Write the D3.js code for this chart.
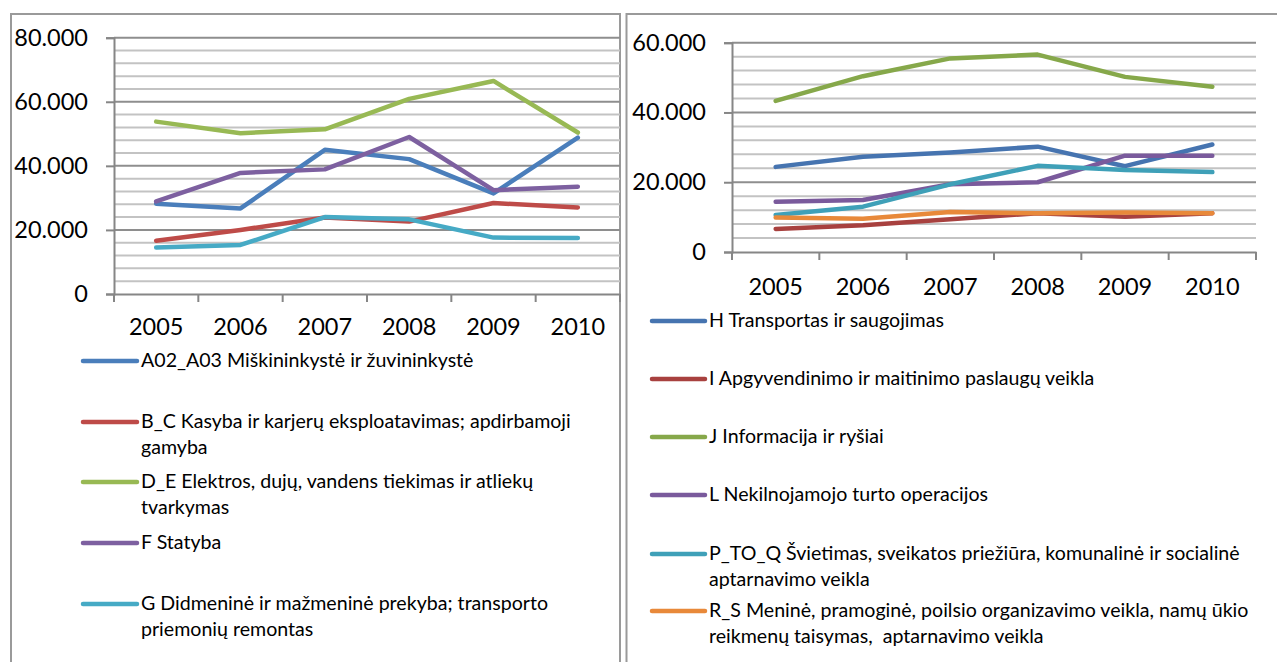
<!DOCTYPE html>
<html>
<head>
<meta charset="utf-8">
<script src="https://cdn.jsdelivr.net/npm/d3@7"></script>
<style>
  body { margin: 0; background: #fff; }
  svg { display: block; }
  text { font-family: Lato, "Open Sans", sans-serif; fill: #000; white-space: pre; }
</style>
</head>
<body>
<script>
// Years on the x axis
const years = ["2005", "2006", "2007", "2008", "2009", "2010"];

// Left chart series
const leftNames = [
  "A02_A03 Miškininkystė ir žuvininkystė",
  "B_C Kasyba ir karjerų eksploatavimas; apdirbamoji\ngamyba",
  "D_E Elektros, dujų, vandens tiekimas ir atliekų\ntvarkymas",
  "F Statyba",
  "G Didmeninė ir mažmeninė prekyba; transporto\npriemonių remontas"
];
const a02a03 = [28200, 26700, 45000, 42100, 31400, 48800];
const bc = [16600, 20000, 23900, 22600, 28400, 27000];
const de = [53800, 50200, 51400, 60900, 66500, 50400];
const f = [28900, 37800, 38900, 49000, 32400, 33500];
const g = [14500, 15300, 24000, 23300, 17600, 17500];
const leftTicks = [0, 20000, 40000, 60000, 80000];

// Right chart series
const rightNames = [
  "H Transportas ir saugojimas",
  "I Apgyvendinimo ir maitinimo paslaugų veikla",
  "J Informacija ir ryšiai",
  "L Nekilnojamojo turto operacijos",
  "P_TO_Q Švietimas, sveikatos priežiūra, komunalinė ir socialinė\naptarnavimo veikla",
  "R_S Meninė, pramoginė, poilsio organizavimo veikla, namų ūkio\nreikmenų taisymas,  aptarnavimo veikla"
];
const h = [24400, 27300, 28500, 30200, 24600, 30800];
const i = [6600, 7700, 9400, 11100, 10100, 11100];
const j = [43300, 50400, 55500, 56600, 50200, 47400];
const l = [14400, 14900, 19400, 20000, 27600, 27600];
const ptoq = [10600, 13000, 19400, 24700, 23500, 22900];
const rs = [9900, 9500, 11500, 11100, 11300, 11100];
const rightTicks = [0, 20000, 40000, 60000];

const leftColors = ["#4a7ebb", "#be4b48", "#98b954", "#7d60a0", "#46aac5"];
const rightColors = ["#4674b0", "#a8413f", "#86a84a", "#7a5a9c", "#3fa0b8", "#e8893a"];

const W = 1277, H = 662;
const lt = d3.formatLocale({decimal: ",", thousands: ".", grouping: [3], currency: ["", ""]});
const fmt = lt.format(",");

const svg = d3.select("body").append("svg")
  .attr("width", W).attr("height", H);

// Frames
svg.append("rect").attr("x", 11).attr("y", 14).attr("width", 609).attr("height", 700)
  .attr("fill", "none").attr("stroke", "#9a9a9a").attr("stroke-width", 2);
svg.append("rect").attr("x", 626.5).attr("y", 14).attr("width", 700).attr("height", 700)
  .attr("fill", "none").attr("stroke", "#9a9a9a").attr("stroke-width", 2);

function drawChart(cfg) {
  const g0 = svg.append("g");
  const y = d3.scaleLinear().domain([0, cfg.max]).range([cfg.bottom, cfg.top]);
  const band = d3.scaleBand().domain(years).range([cfg.left, cfg.right]);
  const x = d3.scalePoint().domain(years).range([cfg.left, cfg.right]).padding(0.5);

  // Gridlines: minor every 4000, major at ticks
  const minor = d3.range(4000, cfg.max + 1, 4000).filter(v => v % 20000 !== 0);
  g0.selectAll(".minor").data(minor).join("line")
    .attr("x1", cfg.left).attr("x2", cfg.right)
    .attr("y1", d => y(d)).attr("y2", d => y(d))
    .attr("stroke", "#c3c3c3").attr("stroke-width", 2);
  g0.selectAll(".major").data(cfg.ticks.filter(v => v > 0)).join("line")
    .attr("x1", cfg.left).attr("x2", cfg.right)
    .attr("y1", d => y(d)).attr("y2", d => y(d))
    .attr("stroke", "#8e8e8e").attr("stroke-width", 2);

  // Axes
  const yAxis = g0.append("g").attr("transform", `translate(${cfg.left},0)`)
    .call(d3.axisLeft(y).tickValues(cfg.ticks).tickFormat(fmt).tickSize(8).tickPadding(18));
  const xAxis = g0.append("g").attr("transform", `translate(0,${cfg.bottom})`)
    .call(d3.axisBottom(band).tickSize(0).tickFormat(d => d));
  [yAxis, xAxis].forEach(a => {
    a.select(".domain").attr("stroke", "#868686").attr("stroke-width", 2);
    a.selectAll(".tick line").attr("stroke", "#868686").attr("stroke-width", 2);
    a.selectAll("text").style("font-family", "Lato").style("font-size", "23.5px").attr("fill", "#000");
  });
  xAxis.selectAll(".tick text").attr("dy", null).attr("y", cfg.xLabelDy);
  // ticks on x at band edges
  const edges = years.map(d => band(d)).concat([cfg.right]);
  g0.selectAll(".xt").data(edges).join("line")
    .attr("x1", d => d).attr("x2", d => d)
    .attr("y1", cfg.bottom).attr("y2", cfg.bottom + 8)
    .attr("stroke", "#868686").attr("stroke-width", 2);

  // Lines
  const line = d3.line().x((d, k) => x(years[k])).y(d => y(d));
  cfg.series.forEach((s, k) => {
    g0.append("path").datum(s)
      .attr("d", line)
      .attr("fill", "none")
      .attr("stroke", cfg.colors[k])
      .attr("stroke-width", 4.5)
      .attr("stroke-linejoin", "round")
      .attr("stroke-linecap", "round");
  });

  // Legend
  cfg.names.forEach((name, k) => {
    const by = cfg.legendY[k];
    g0.append("line")
      .attr("x1", cfg.legX1).attr("x2", cfg.legX2)
      .attr("y1", by - 6).attr("y2", by - 6)
      .attr("stroke", cfg.colors[k]).attr("stroke-width", 4.5)
      .attr("stroke-linecap", "round");
    const t = g0.append("text").attr("x", cfg.legX2 + 4).attr("y", by)
      .style("font-size", "19.6px");
    name.split("\n").forEach((part, m) => {
      t.append("tspan").attr("x", cfg.legX2 + 4).attr("y", by + m * 26).text(part);
    });
  });
}

drawChart({
  left: 114, right: 620, top: 37.7, bottom: 294, max: 80000, ticks: leftTicks,
  xLabelDy: 41, series: [a02a03, bc, de, f, g], colors: leftColors, names: leftNames,
  legX1: 83, legX2: 137, legendY: [367, 428, 488, 549, 610]
});

drawChart({
  left: 732, right: 1256, top: 42.7, bottom: 252, max: 60000, ticks: rightTicks,
  xLabelDy: 43, series: [h, i, j, l, ptoq, rs], colors: rightColors, names: rightNames,
  legX1: 652, legX2: 705, legendY: [327, 385, 443, 501, 560, 617]
});
</script>
</body>
</html>
